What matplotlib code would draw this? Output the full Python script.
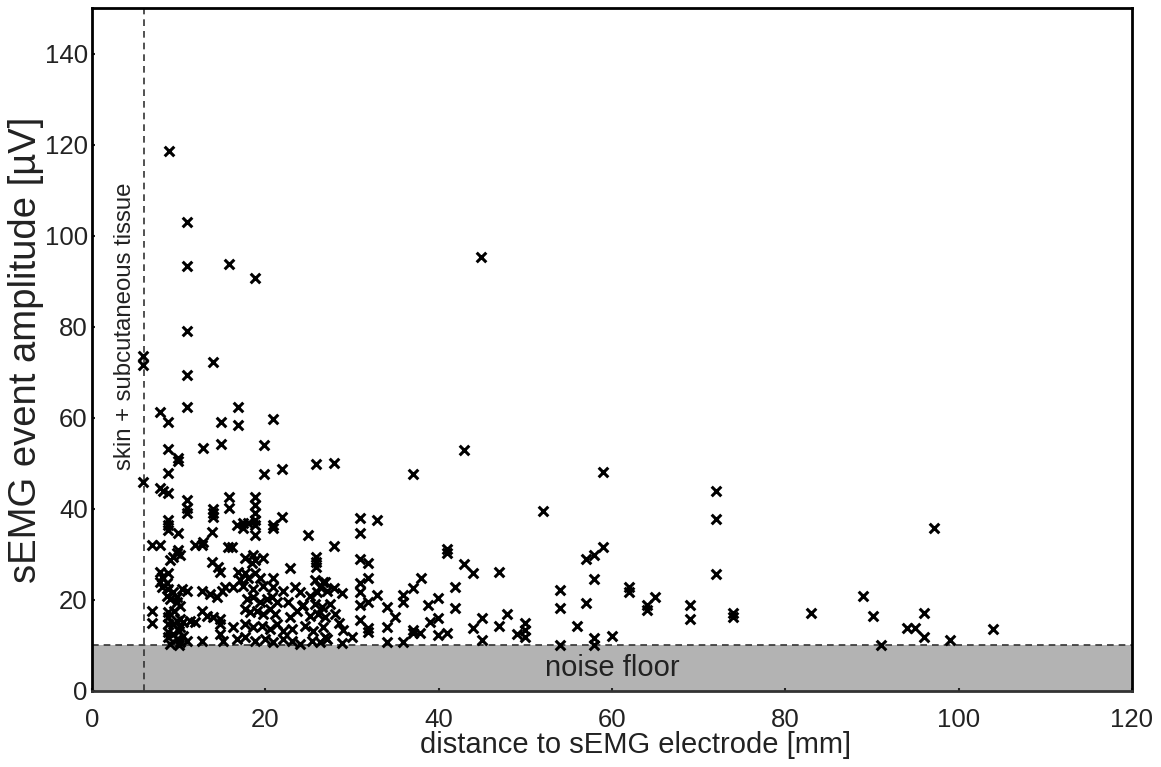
import matplotlib
matplotlib.use("Agg")
import matplotlib.pyplot as plt

plt.rcParams['font.family'] = ['Liberation Sans', 'DejaVu Sans']

# distance to electrode [mm]
x_mm = [
    8.9, 11, 11, 15.8, 18.8, 44.9, 11, 5.9, 5.9, 14, 11,
    7.8, 8.8, 11, 14.9, 16.8, 16.8, 20.9, 8.8, 9.9, 9.9, 12.8, 14.9, 19.8, 8.8, 19.8, 21.9, 25.8,
    5.9, 7.8, 8.2, 8.8, 11, 11, 11, 14, 14, 14, 15.8, 15.8, 18.8, 18.8, 18.8, 18.8, 21.9, 8.8, 17.4, 20.9,
    8.8, 8.8, 9.9, 13.8, 16.7, 17.4, 18, 18.8, 18.8, 20.9, 24.9, 6.9, 7.8, 11.9, 12.7, 12.8, 9.9, 9.8,
    15.7, 16.2, 9, 9.3, 10.2, 17.7, 18.6, 18.8, 19.7, 18.5, 13.8, 14.5, 25.8, 25.8, 25.8, 7.8, 8.1, 8.8,
    16.8, 17.7, 18, 18.8, 19.4, 17.1, 14.8, 22.8, 20.9, 25.7, 26.7, 7.8, 8.7,
    8.1, 8.8, 9.3, 10.4, 11, 8.7, 9, 9.8, 9.8, 10.2, 12.7, 13.6, 14.4, 15, 15.3, 6.9, 6.9,
    8.8, 8.8, 8.8, 9.3, 9.8, 10.2, 10.2, 10.5, 11.3, 11.9, 12.7, 13.3, 14, 14.8, 14.8,
    8.8, 8.8, 9.3, 9.8, 10.2, 9, 12.7, 14.8, 15.1, 10, 10.5, 11, 9.5, 10,
    16.3, 17.4, 18.6, 19.7, 20.9, 22, 23.4, 24, 25.2, 26, 26.3, 27.1,
    17.9, 18.6, 19.4, 20.2, 20.8, 21.3, 22.6, 24.2, 25.7, 26.5,
    17.7, 18.2, 19, 19.7, 20.5, 21.1, 22.8, 23.7, 25.2, 26.1, 26.9,
    16.3, 17.7, 18.6, 19.6, 20.5, 21.3, 22, 23.1, 24.6, 25.5, 26.7,
    16.7, 17.7, 18.8, 20, 20.9, 22, 23.1, 24, 25.4, 26.3, 27.1, 24.3,
    27.9, 37, 42.9, 52, 30.9, 30.9, 32.9, 27.9, 41, 41, 30.9, 31.8, 31.8, 42.9, 44, 47, 38, 37,
    41.9, 41.9, 54, 54, 26.9, 27.9, 28.8, 30.9, 30.9, 30.9, 30.9, 32.9, 34, 34, 31.8, 35.9, 35.9,
    35, 38.8, 39.9, 39.9, 39, 37, 37, 37.8, 41, 39.9, 45, 44, 45, 47, 47.9, 49, 50, 50, 50, 54,
    34, 35.9, 28.8, 26.9, 30, 31.8, 31.8, 28, 28.5, 29, 27.5,
    59, 72, 72, 72, 59, 57.9, 57, 57.9, 57, 56, 57.9, 57.9, 60, 62, 62, 64, 64, 65, 69, 69,
    74, 74, 83,
    97.1, 89, 90.1, 96, 94, 95, 96, 99, 104, 91,
]

# event amplitude [uV]
y_uv = [
    118.5, 103, 93.4, 93.8, 90.8, 95.3, 79.1, 73.6, 71.6, 72.3, 69.5,
    61.3, 59.1, 62.4, 59.1, 62.4, 58.5, 59.8, 53.2, 51.2, 50.5, 53.4, 54.3, 54.1, 47.9, 47.7, 48.8, 49.9,
    46, 44.6, 44, 43.5, 42, 40.2, 39.1, 40, 39, 38.2, 42.6, 40.2, 42.6, 40.9, 39, 37.6, 38.2, 37.6, 37, 36.5,
    36.5, 35.4, 34.7, 35, 36.5, 35.8, 36.9, 36.5, 34.3, 35.8, 34.3, 32, 32, 32, 32, 32.7, 31, 30.3,
    31.6, 31.6, 28.8, 29.5, 29.9, 29.2, 29.9, 28.8, 29.2, 28.1, 28.4, 27.3, 29.5, 28.4, 27.3, 26.2, 25.1, 25.9,
    26.2, 25.9, 24.8, 25.9, 24.8, 24.4, 26.2, 27, 24.8, 24.4, 24, 24, 23.7,
    22.9, 22.4, 21.8, 22.4, 22, 20.9, 20.2, 20.7, 19.6, 18.7, 22, 21.3, 20.7, 22, 22.9, 17.6, 15,
    17.4, 16.3, 14.7, 14.7, 15.4, 15.8, 14.1, 15.2, 15.4, 15.2, 17.6, 16.5, 16.3, 15.8, 14.7,
    13, 11.9, 12.5, 11.4, 10.8, 10.3, 11, 12.5, 11, 10, 12, 11, 17.5, 13.2,
    22.9, 23.1, 22.4, 23.1, 22.9, 22, 22.9, 21.8, 20.9, 21.8, 22.9, 22,
    20.2, 20.7, 19.6, 20.2, 20.7, 19.6, 19.6, 18.7, 19.1, 18.5,
    18, 17.4, 17.6, 16.9, 18, 16.9, 16.3, 17.6, 16.5, 16.9, 16.3,
    14.1, 14.7, 14.1, 14.3, 13.6, 14.7, 13.2, 13.6, 14.3, 13.2, 14.1,
    11.4, 11.9, 11, 11.4, 10.8, 11.4, 11, 10.3, 11, 10.8, 11.4, 18.9,
    50.1, 47.7, 53, 39.6, 38, 34.7, 37.6, 31.9, 31.2, 30.3, 29, 28.1, 24.8, 27.9, 25.9, 26.1, 24.8, 22.6,
    22.9, 18.2, 22.2, 18.2, 24, 22.6, 21.5, 23.7, 21.8, 18.9, 15.6, 21.1, 18.5, 14, 19.6, 21.1, 19.6,
    16.3, 18.9, 20.4, 16, 15.2, 13.4, 12.7, 12.7, 12.7, 12.3, 16, 13.8, 11.2, 14.3, 16.9, 12.5, 15, 13.4, 11.9, 10.1,
    10.8, 10.8, 10.5, 11.9, 11.9, 13.8, 13, 17, 15, 13.5, 19,
    48.1, 44, 37.8, 25.7, 31.6, 29.9, 29, 24.6, 19.3, 14.3, 11.6, 10.1, 12.1, 22.9, 21.8, 18.9, 17.8, 20.7, 18.9, 15.8,
    17.1, 16.3, 17.1,
    35.8, 20.9, 16.5, 17.1, 13.8, 13.8, 11.9, 11.2, 13.6, 10.1,
]

noise_floor = 10
skin_depth = 6
x_ticks = [0, 20, 40, 60, 80, 100, 120]
y_ticks = [0, 20, 40, 60, 80, 100, 120, 140]

fig = plt.figure(figsize=(11.61, 7.67), dpi=100)
ax = fig.add_axes([0.0792, 0.0991, 0.8958, 0.8905])

ax.axhspan(0, noise_floor, color='#b3b3b3', zorder=0, lw=0)
ax.axhline(noise_floor, color='#333333', ls=(0, (4, 3)), lw=1.2, zorder=1)
ax.axvline(skin_depth, color='#333333', ls=(0, (4, 3)), lw=1.2, zorder=1)

ax.scatter(x_mm, y_uv, marker='x', s=48, c='black', linewidths=2.2, zorder=3)

ax.text(60, 5, 'noise floor', ha='center', va='center', fontsize=21, color='#222222')
ax.text(3.8, 80, 'skin + subcutaneous tissue', rotation=90, ha='center', va='center',
        fontsize=17.3, color='#222222')

ax.set_xlim(0, 120)
ax.set_ylim(0, 150)
ax.set_xticks(x_ticks)
ax.set_yticks(y_ticks)
ax.tick_params(axis='both', which='both', length=2, width=1.5, direction='in',
               labelsize=18.5, colors='#222222')
ax.tick_params(axis='x', pad=12)
ax.tick_params(axis='y', pad=3)
for s in ['top', 'right', 'left']:
    ax.spines[s].set_linewidth(2)
    ax.spines[s].set_color('black')
ax.spines['bottom'].set_linewidth(2)
ax.spines['bottom'].set_color('#333333')

ax.set_xlabel('distance to sEMG electrode [mm]', fontsize=21, color='#222222')
ax.xaxis.set_label_coords(0.523, -0.058)
ax.set_ylabel('sEMG event amplitude [\u00b5V]', fontsize=27.5, color='#222222')
ax.yaxis.set_label_coords(-0.046, 0.5)

fig.savefig('out.png', dpi=100)
